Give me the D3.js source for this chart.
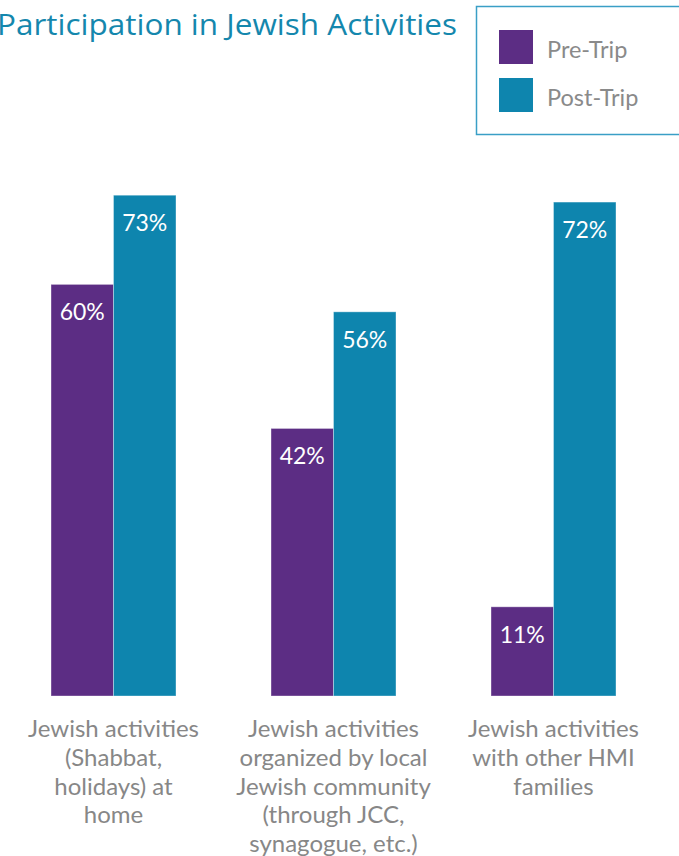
<!DOCTYPE html>
<html>
<head>
<meta charset="utf-8">
<script src="https://cdn.jsdelivr.net/npm/d3@7"></script>
<style>
  body { margin: 0; background: #fff; overflow: hidden; }
  svg { display: block; }
</style>
</head>
<body>
<div id="chart"></div>
<script>
// category names, one entry per wrapped line
const categories = [
    ["Jewish activities", "(Shabbat,", "holidays) at", "home"],
    ["Jewish activities", "organized by local", "Jewish community", "(through JCC,", "synagogue, etc.)"],
    ["Jewish activities", "with other HMI", "families"]
];
const series = ["Pre-Trip", "Post-Trip"];

// percentages printed on the bars
const preTripLabels = [60, 42, 11];
const postTripLabels = [73, 56, 72];

// bar lengths as drawn in the source (two pre-trip bars are not drawn to their label)
const preTripBars = [60, 39, 13];
const postTripBars = [73, 56, 72];

const colors = ["#5c2d84", "#0e85ae"];

const width = 679, height = 856;

const svg = d3.select("#chart").append("svg")
    .attr("width", width)
    .attr("height", height);

// scales
const x0 = d3.scaleBand()
    .domain(d3.range(categories.length))
    .range([3.5, 663.5])
    .paddingInner(0.432)
    .paddingOuter(0.216);

const x1 = d3.scaleBand()
    .domain(series)
    .range([0, x0.bandwidth()]);

const y = d3.scaleLinear()
    .domain([0, 100])
    .range([696, 10]);

// title (runs off the left edge in the source too)
svg.append("text")
    .attr("x", -3)
    .attr("y", 35)
    .attr("textLength", 460)
    .attr("lengthAdjust", "spacingAndGlyphs")
    .style("font-family", "'Open Sans', sans-serif")
    .style("font-size", "29px")
    .style("fill", "#1487ad")
    .text("Participation in Jewish Activities");

// legend
const legend = svg.append("g").attr("class", "legend");

legend.append("rect")
    .attr("x", 476.5)
    .attr("y", 6.5)
    .attr("width", 215)
    .attr("height", 128)
    .attr("fill", "none")
    .attr("stroke", "#3a9fc6")
    .attr("stroke-width", 1.5);

series.forEach((s, i) => {
    legend.append("rect")
        .attr("x", 499)
        .attr("y", 30 + i * 48)
        .attr("width", 34)
        .attr("height", 34)
        .attr("fill", colors[i]);
    legend.append("text")
        .attr("x", 547)
        .attr("y", 57.5 + i * 48)
        .style("font-family", "Lato, sans-serif")
        .style("font-size", "23.5px")
        .style("fill", "#8a8a8a")
        .text(s);
});

// bars
const rows = categories.map((c, i) => ({
    index: i,
    values: [
        { key: series[0], bar: preTripBars[i], label: preTripLabels[i] },
        { key: series[1], bar: postTripBars[i], label: postTripLabels[i] }
    ]
}));

const groups = svg.selectAll(".group")
    .data(rows)
    .enter().append("g")
    .attr("class", "group")
    .attr("transform", d => `translate(${x0(d.index)},0)`);

groups.selectAll("rect")
    .data(d => d.values)
    .enter().append("rect")
    .attr("x", d => x1(d.key))
    .attr("y", d => y(d.bar))
    .attr("width", x1.bandwidth())
    .attr("height", d => y(0) - y(d.bar))
    .attr("fill", (d, i) => colors[i])
    .attr("stroke", "rgba(255,255,255,0.35)")
    .attr("stroke-width", 1);

groups.selectAll(".value")
    .data(d => d.values)
    .enter().append("text")
    .attr("class", "value")
    .attr("x", d => x1(d.key) + x1.bandwidth() / 2)
    .attr("y", d => y(d.bar) + 36)
    .attr("text-anchor", "middle")
    .style("font-family", "Lato, sans-serif")
    .style("font-size", "23px")
    .style("fill", "#fff")
    .text(d => d.label + "%");

// category labels
svg.selectAll(".cat")
    .data(categories)
    .enter().append("text")
    .attr("class", "cat")
    .attr("x", (d, i) => x0(i) + x0.bandwidth() / 2)
    .attr("y", 737)
    .attr("text-anchor", "middle")
    .style("font-family", "Lato, sans-serif")
    .style("font-size", "24px")
    .style("fill", "#878787")
    .selectAll("tspan")
    .data(d => d)
    .enter().append("tspan")
    .attr("x", function () { return d3.select(this.parentNode).attr("x"); })
    .attr("dy", (d, i) => i === 0 ? 0 : 28.8)
    .text(d => d);
</script>
</body>
</html>
